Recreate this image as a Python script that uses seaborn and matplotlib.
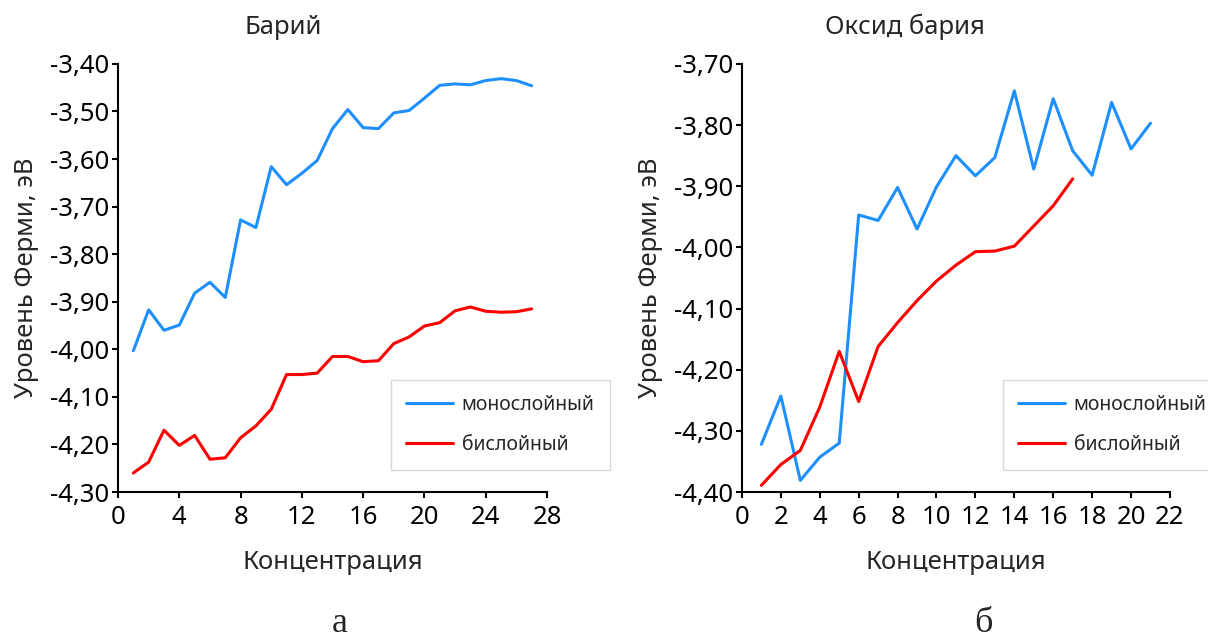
import numpy as np
import pandas as pd
import seaborn as sns
import matplotlib.pyplot as plt
from matplotlib.ticker import FuncFormatter, MultipleLocator

# Барий: уровень Ферми (эВ) по концентрации
barium_conc = list(range(1, 28))
barium_mono = [-4.003, -3.917, -3.960, -3.949, -3.882, -3.859, -3.891, -3.728, -3.744,
               -3.616, -3.654, -3.630, -3.603, -3.536, -3.496, -3.534, -3.536, -3.503,
               -3.498, -3.472, -3.445, -3.442, -3.444, -3.435, -3.431, -3.435, -3.446]
barium_bi = [-4.260, -4.237, -4.170, -4.202, -4.181, -4.231, -4.228, -4.186, -4.161,
             -4.126, -4.053, -4.053, -4.050, -4.015, -4.015, -4.026, -4.024, -3.988,
             -3.974, -3.951, -3.944, -3.919, -3.911, -3.920, -3.922, -3.921, -3.915]

# Оксид бария
oxide_mono_conc = list(range(1, 22))
oxide_mono = [-4.322, -4.243, -4.381, -4.343, -4.320, -3.947, -3.956, -3.902, -3.970,
              -3.901, -3.850, -3.883, -3.853, -3.744, -3.872, -3.757, -3.842, -3.882,
              -3.763, -3.839, -3.797]
oxide_bi_conc = list(range(1, 18))
oxide_bi = [-4.389, -4.355, -4.332, -4.261, -4.170, -4.252, -4.162, -4.123, -4.087,
            -4.055, -4.029, -4.007, -4.006, -3.998, -3.965, -3.932, -3.888]

series_names = ["монослойный", "бислойный"]
panel_titles = ["Барий", "Оксид бария"]
panel_letters = ["а", "б"]


def long_frame(conc_mono, mono, conc_bi, bi):
    return pd.DataFrame({
        "conc": list(conc_mono) + list(conc_bi),
        "level": list(mono) + list(bi),
        "series": [series_names[0]] * len(mono) + [series_names[1]] * len(bi),
    })


sns.set_theme(style="ticks")
plt.rcParams["font.family"] = ["Noto Sans", "DejaVu Sans"]
plt.rcParams["axes.linewidth"] = 1.5
plt.rcParams["xtick.major.width"] = 1.5
plt.rcParams["ytick.major.width"] = 1.5
plt.rcParams["xtick.major.size"] = 4.5
plt.rcParams["ytick.major.size"] = 4.5

fig = plt.figure(figsize=(12.08, 6.39), dpi=100)
ax1 = fig.add_axes([0.0977, 0.230, 0.3551, 0.670])
ax2 = fig.add_axes([0.6142, 0.230, 0.3543, 0.670])

palette = {series_names[0]: "#1e8fff", series_names[1]: "#ff0000"}
comma = FuncFormatter(lambda v, p: "{:.2f}".format(v).replace(".", ","))

panels = [
    (ax1, long_frame(barium_conc, barium_mono, barium_conc, barium_bi), (0, 28), 4, (-4.30, -3.40), 0.636),
    (ax2, long_frame(oxide_mono_conc, oxide_mono, oxide_bi_conc, oxide_bi), (0, 22), 2, (-4.40, -3.70), 0.609),
]

for ax, df, xlim, xstep, ylim, leg_x in panels:
    sns.lineplot(data=df, x="conc", y="level", hue="series", palette=palette,
                 linewidth=2.2, ax=ax)
    ax.set_xlim(*xlim)
    ax.set_ylim(*ylim)
    ax.xaxis.set_major_locator(MultipleLocator(xstep))
    ax.yaxis.set_major_locator(MultipleLocator(0.1))
    ax.yaxis.set_major_formatter(comma)
    ax.tick_params(labelsize=18.5, colors="black")
    ax.tick_params(axis="x", pad=5)
    ax.tick_params(axis="y", pad=2)
    ax.set_xlabel("Концентрация", fontsize=18.5, labelpad=14)
    ax.set_ylabel("Уровень Ферми, эВ", fontsize=18.5, labelpad=8)
    for side in ["top", "right"]:
        ax.spines[side].set_visible(False)
    for side in ["left", "bottom"]:
        ax.spines[side].set_color("black")
    leg = ax.legend(loc="lower left", bbox_to_anchor=(leg_x, 0.051), borderaxespad=0,
                    fontsize=14, frameon=True, fancybox=False, framealpha=1,
                    edgecolor="#d9d9d9", handlelength=2.4, handletextpad=0.45,
                    borderpad=0.8, labelspacing=1.0, title=None)
    leg.get_frame().set_linewidth(1)
    leg.set_clip_on(False)

fig.text(283 / 1208, 1 - 27 / 639, panel_titles[0], ha="center", va="center", fontsize=18.5)
fig.text(905 / 1208, 1 - 27 / 639, panel_titles[1], ha="center", va="center", fontsize=18.5)
fig.text(340 / 1208, 1 - 624 / 639, panel_letters[0], ha="center", va="center",
         fontsize=26, family=["Liberation Serif", "DejaVu Serif"])
fig.text(983 / 1208, 1 - 624 / 639, panel_letters[1], ha="center", va="center",
         fontsize=26, family=["Liberation Serif", "DejaVu Serif"])

fig.savefig("out.png", dpi=100)
